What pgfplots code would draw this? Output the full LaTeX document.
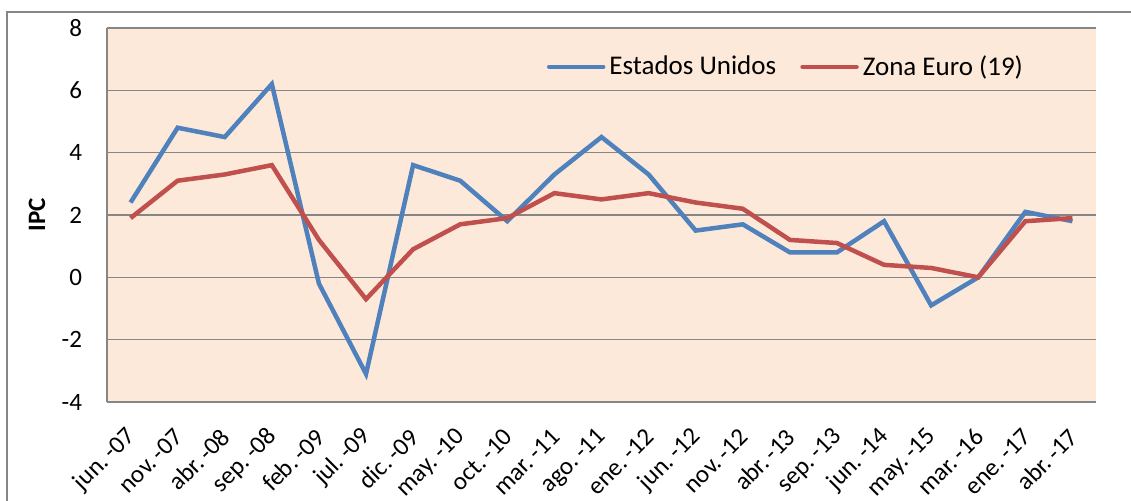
\documentclass[border=0pt]{standalone}
\usepackage{fontspec}
\setmainfont{Carlito}
\usepackage{pgfplots}
\pgfplotsset{compat=1.18}
\definecolor{UsBlue}{HTML}{4F81BD}
\definecolor{EuRed}{HTML}{C0504D}
\definecolor{PlotBg}{HTML}{FDE9D9}
\definecolor{GridGray}{HTML}{868686}

\begin{document}
\begin{tikzpicture}
  % 1 px of the reference = 0.5pt
  \path[use as bounding box] (0,0) rectangle (565.5pt,250.5pt);
  \draw[GridGray,line width=0.6pt] (3.5pt,-1pt) -- (3.5pt,244.5pt) -- (566pt,244.5pt);
  \begin{axis}[
    at={(53.5pt,49.5pt)},anchor=south west,
    scale only axis,
    width=494.5pt,height=187pt,
    xmin=-0.5,xmax=20.5,
    ymin=-4,ymax=8,
    ytick={-4,-2,0,2,4,6,8},
    xtick={0,...,20},
    xticklabels={jun.\,-07,nov.\,-07,abr.\,-08,sep.\,-08,feb.\,-09,jul.\,-09,dic.\,-09,may.\,-10,oct.\,-10,mar.\,-11,ago.\,-11,ene.\,-12,jun.\,-12,nov.\,-12,abr.\,-13,sep.\,-13,jun.\,-14,may.\,-15,mar.\,-16,ene.\,-17,abr.\,-17},
    /pgf/number format/assume math mode=true,
    yticklabel style={font=\fontsize{12.5}{14}\selectfont,color=black,xshift=-9pt},
    xticklabel style={font=\fontsize{12.5}{14}\selectfont,color=black,yshift=-13pt,xshift=3pt,rotate=45,anchor=east},
    major tick length=0pt,
    axis x line*=bottom,
    axis y line*=left,
    axis line style={GridGray,line width=0.75pt,-},
    ymajorgrids,
    grid style={GridGray,line width=0.75pt},
    axis background/.style={fill=PlotBg},
    ylabel={\textbf{IPC}},
    ylabel style={at={(axis description cs:-0.0708,0.5)},anchor=center,font=\fontsize{12.5}{14}\selectfont},
    legend columns=2,
    legend style={at={(rel axis cs:0.6875,0.896)},anchor=center,draw=none,fill=none,
      font=\fontsize{13.5}{16}\selectfont,
      /tikz/every even column/.append style={column sep=10pt}},
    legend image code/.code={\draw[#1,line cap=round] (0pt,0pt) -- (27pt,0pt);},
  ]
  \addplot[UsBlue,line width=2.25pt,mark=none] coordinates {
    (0,2.4) (1,4.8) (2,4.5) (3,6.2) (4,-0.2) (5,-3.1) (6,3.6) (7,3.1)
    (8,1.8) (9,3.3) (10,4.5) (11,3.3) (12,1.5) (13,1.7) (14,0.8) (15,0.8)
    (16,1.8) (17,-0.9) (18,0.0) (19,2.1) (20,1.8)
  };
  \addlegendentry{Estados Unidos}
  \addplot[EuRed,line width=2.25pt,mark=none] coordinates {
    (0,1.9) (1,3.1) (2,3.3) (3,3.6) (4,1.2) (5,-0.7) (6,0.9) (7,1.7)
    (8,1.9) (9,2.7) (10,2.5) (11,2.7) (12,2.4) (13,2.2) (14,1.2) (15,1.1)
    (16,0.4) (17,0.3) (18,0.0) (19,1.8) (20,1.9)
  };
  \addlegendentry{Zona Euro (19)}
  \end{axis}
\end{tikzpicture}
\end{document}
